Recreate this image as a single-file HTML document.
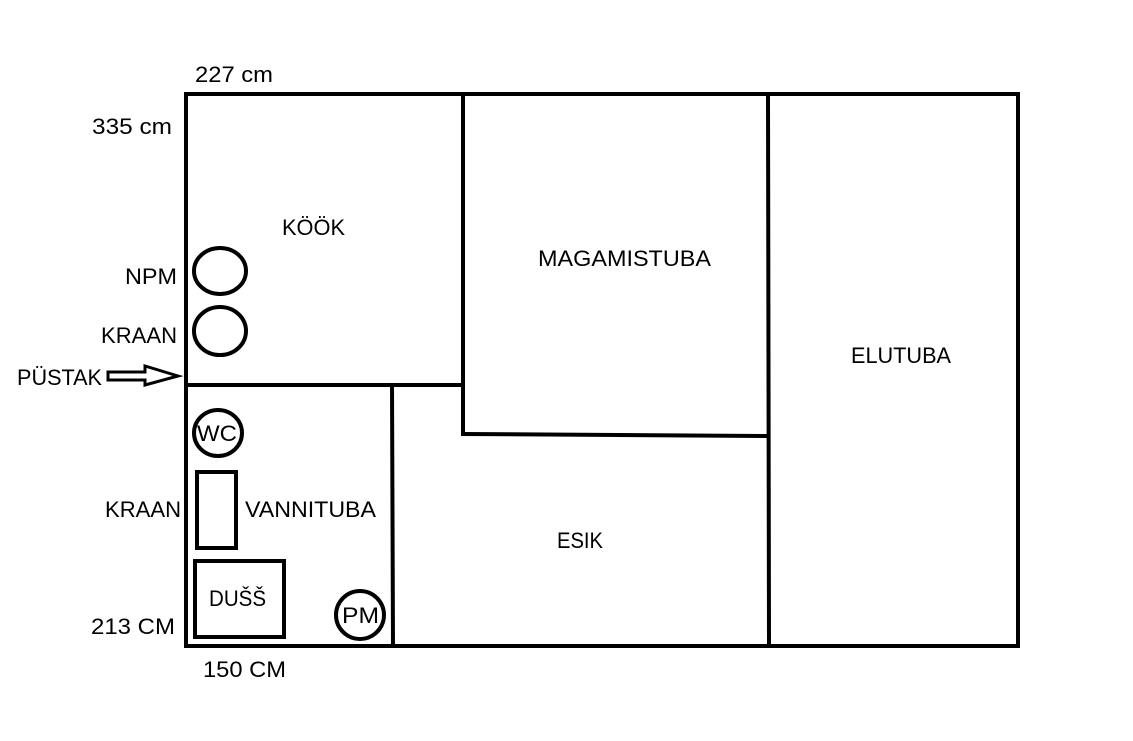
<!DOCTYPE html>
<html><head><meta charset="utf-8"><style>
html,body{margin:0;padding:0;background:#fff;width:1133px;height:741px;overflow:hidden}
text{font-family:"Liberation Sans",sans-serif;font-size:22px;fill:#000}
</style></head><body>
<svg width="1133" height="741" viewBox="0 0 1133 741" xmlns="http://www.w3.org/2000/svg">
<g stroke="#000" stroke-width="4" fill="none" stroke-linecap="square">
<rect x="186" y="94" width="832" height="552"/>
<line x1="186" y1="385" x2="463" y2="385"/>
<line x1="392" y1="385" x2="393" y2="646"/>
<line x1="463" y1="94" x2="463" y2="434"/>
<line x1="463" y1="434" x2="768" y2="436"/>
<line x1="768" y1="94" x2="769" y2="646"/>
<ellipse cx="220" cy="271" rx="26" ry="23"/>
<ellipse cx="220" cy="331" rx="26" ry="24"/>
<ellipse cx="218" cy="433" rx="24" ry="23"/>
<ellipse cx="360" cy="615" rx="24" ry="24"/>
<rect x="197" y="472" width="39" height="76"/>
<rect x="195" y="561" width="89" height="76"/>
</g>
<path d="M108,372 H145 V366 L178,376 L145,385 V380 H108 Z" fill="none" stroke="#000" stroke-width="3"/>
<text x="195" y="82" textLength="78" lengthAdjust="spacingAndGlyphs">227 cm</text>
<text x="92" y="134" textLength="80" lengthAdjust="spacingAndGlyphs">335 cm</text>
<text x="282" y="235" textLength="63" lengthAdjust="spacingAndGlyphs">KÖÖK</text>
<text x="125" y="284" textLength="52" lengthAdjust="spacingAndGlyphs">NPM</text>
<text x="101" y="343" textLength="76" lengthAdjust="spacingAndGlyphs">KRAAN</text>
<text x="17" y="385" textLength="85" lengthAdjust="spacingAndGlyphs">PÜSTAK</text>
<text x="197" y="441" textLength="40" lengthAdjust="spacingAndGlyphs">WC</text>
<text x="105" y="517" textLength="76" lengthAdjust="spacingAndGlyphs">KRAAN</text>
<text x="245" y="517" textLength="131" lengthAdjust="spacingAndGlyphs">VANNITUBA</text>
<text x="209" y="606" textLength="57" lengthAdjust="spacingAndGlyphs">DUŠŠ</text>
<text x="342" y="623" textLength="37" lengthAdjust="spacingAndGlyphs">PM</text>
<text x="91" y="634" textLength="84" lengthAdjust="spacingAndGlyphs">213 CM</text>
<text x="203" y="677" textLength="83" lengthAdjust="spacingAndGlyphs">150 CM</text>
<text x="538" y="266" textLength="173" lengthAdjust="spacingAndGlyphs">MAGAMISTUBA</text>
<text x="851" y="363" textLength="100" lengthAdjust="spacingAndGlyphs">ELUTUBA</text>
<text x="557" y="548" textLength="46" lengthAdjust="spacingAndGlyphs">ESIK</text>
</svg>
</body></html>
